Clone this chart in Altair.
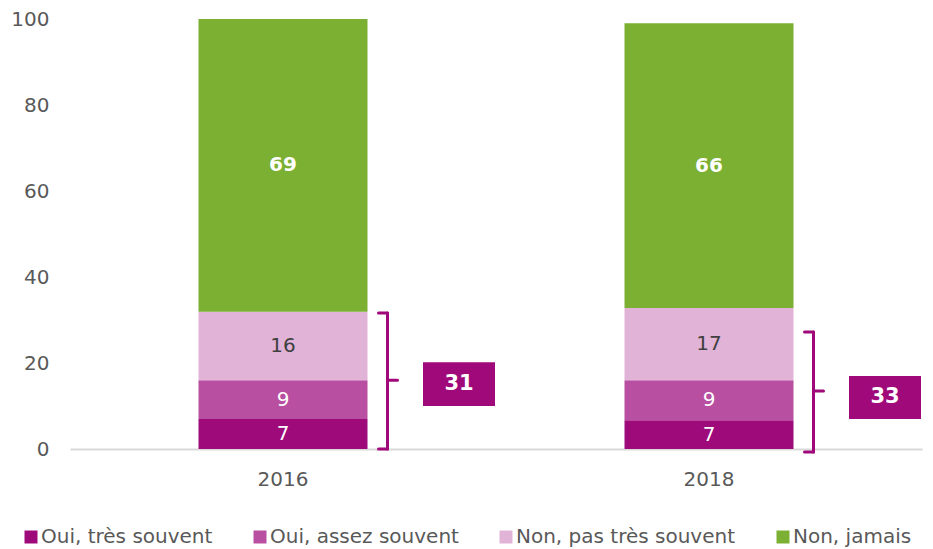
import altair as alt
import pandas as pd

years = ["2016", "2018"]
categories = ["Oui, très souvent", "Oui, assez souvent", "Non, pas très souvent", "Non, jamais"]
colors = ["#9e0a7a", "#b94fa0", "#e1b3d7", "#7bb032"]
values_2016 = [7.0, 9.0, 15.9, 68.1]
values_2018 = [6.7, 9.3, 16.8, 66.2]
labels_2016 = [7, 9, 16, 69]
labels_2018 = [7, 9, 17, 66]
label_colors = ["white", "white", "#404040", "white"]

subtotals = [31, 33]
bracket_low = [0.0, -0.7]
bracket_high = [31.6, 27.2]
bracket_mid = [16.0, 13.5]
box_low = [10.0, 7.0]
box_high = [20.2, 17.0]

rows = []
for y, vals, labs in [(years[0], values_2016, labels_2016), (years[1], values_2018, labels_2018)]:
    cum = 0.0
    for i, (c, v, l) in enumerate(zip(categories, vals, labs)):
        rows.append({"year": y, "cat": c, "value": v, "label": str(l), "rank": i,
                     "mid": cum + v / 2, "lcolor": label_colors[i], "bold": c == "Non, jamais"})
        cum += v
df = pd.DataFrame(rows)

bdf = pd.DataFrame({
    "year": years, "low": bracket_low, "high": bracket_high, "mid": bracket_mid,
    "blow": box_low, "bhigh": box_high, "total": [str(t) for t in subtotals],
})
bdf["bmid"] = (bdf["blow"] + bdf["bhigh"]) / 2

purple = "#a0097a"
xenc = alt.X("year:N", title=None, sort=years,
             scale=alt.Scale(paddingInner=0, paddingOuter=0),
             axis=alt.Axis(labelAngle=0, ticks=False, domainColor="#d9d9d9", domainWidth=2,
                           labelFontSize=20, labelColor="#595959", labelPadding=20,
                           labelFont="DejaVu Sans"))
yscale = alt.Scale(domain=[0, 100], nice=False)

bars = alt.Chart(df).mark_bar(size=169).encode(
    x=xenc,
    y=alt.Y("value:Q", stack="zero", scale=yscale, title=None,
            axis=alt.Axis(values=[0, 20, 40, 60, 80, 100], grid=False, ticks=False, domain=False,
                          labelFontSize=20, labelColor="#595959", labelPadding=21,
                          labelFont="DejaVu Sans")),
    color=alt.Color("cat:N", sort=categories,
                    scale=alt.Scale(domain=categories, range=colors),
                    legend=alt.Legend(title=None, orient="none", direction="horizontal",
                                      legendX=-49, legendY=508, symbolType="square",
                                      symbolSize=169, symbolStrokeWidth=0, labelFontSize=20,
                                      labelColor="#595959", labelFont="DejaVu Sans",
                                      columnPadding=37, labelOffset=0, labelLimit=400)),
    order=alt.Order("rank:Q", sort="ascending"),
)

txt_norm = alt.Chart(df).transform_filter("!datum.bold").mark_text(
    fontSize=20, font="DejaVu Sans", baseline="middle").encode(
    x=alt.X("year:N", sort=years), y=alt.Y("mid:Q", scale=yscale),
    text="label:N", color=alt.Color("lcolor:N", scale=None))
txt_bold = alt.Chart(df).transform_filter("datum.bold").mark_text(
    fontSize=20, font="DejaVu Sans", fontWeight="bold", baseline="middle").encode(
    x=alt.X("year:N", sort=years), y=alt.Y("mid:Q", scale=yscale),
    text="label:N", color=alt.Color("lcolor:N", scale=None))

base = alt.Chart(bdf)
vline = base.mark_rule(color=purple, strokeWidth=3, xOffset=104.5, strokeCap="round").encode(
    x=alt.X("year:N", sort=years), y=alt.Y("low:Q", scale=yscale), y2="high:Q")
hook_top = base.mark_rule(color=purple, strokeWidth=3, xOffset=95.5, x2Offset=104.5, strokeCap="round").encode(
    x=alt.X("year:N", sort=years), x2="year:N", y=alt.Y("high:Q", scale=yscale))
hook_bot = base.mark_rule(color=purple, strokeWidth=3, xOffset=95.5, x2Offset=104.5, strokeCap="round").encode(
    x=alt.X("year:N", sort=years), x2="year:N", y=alt.Y("low:Q", scale=yscale))
tick_mid = base.mark_rule(color=purple, strokeWidth=3, xOffset=104.5, x2Offset=114.5, strokeCap="round").encode(
    x=alt.X("year:N", sort=years), x2="year:N", y=alt.Y("mid:Q", scale=yscale))
box = base.mark_bar(size=72, xOffset=176, color=purple).encode(
    x=alt.X("year:N", sort=years), y=alt.Y("blow:Q", scale=yscale, stack=None), y2="bhigh:Q")
box_txt = base.mark_text(xOffset=176, fontSize=21, fontWeight="bold", font="DejaVu Sans",
                         color="white", baseline="middle").encode(
    x=alt.X("year:N", sort=years), y=alt.Y("bmid:Q", scale=yscale), text="total:N")

chart = alt.layer(bars, txt_norm, txt_bold, vline, hook_top, hook_bot, tick_mid, box, box_txt).properties(
    width=852, height=430,
    autosize=alt.AutoSizeParams(type="none"),
    padding={"left": 62, "top": 11, "right": 3, "bottom": 99},
    background="white",
).configure_view(stroke=None)

chart.save("out.html", embed_options={"renderer": "svg", "actions": False})
